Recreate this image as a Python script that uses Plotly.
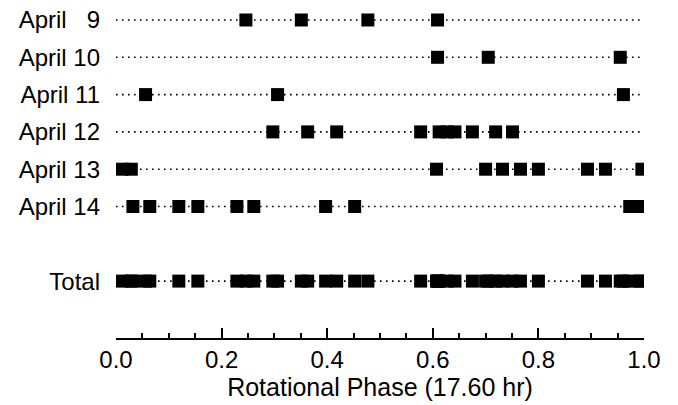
import plotly.graph_objects as go

# ---- data ----
row_labels = ["April\u2007 9", "April 10", "April 11", "April 12", "April 13", "April 14", "Total"]
row_positions = [0, 1, 2, 3, 4, 5, 7]

april9 = [0.246, 0.351, 0.477, 0.609]
april10 = [0.609, 0.705, 0.955]
april11 = [0.056, 0.306, 0.961]
april12 = [0.297, 0.363, 0.418, 0.577, 0.612, 0.627, 0.642, 0.675, 0.719, 0.751]
april13 = [0.012, 0.029, 0.607, 0.700, 0.732, 0.766, 0.800, 0.893, 0.927, 0.996]
april14 = [0.032, 0.064, 0.119, 0.155, 0.229, 0.261, 0.397, 0.452, 0.973, 0.992]

days = [april9, april10, april11, april12, april13, april14]
total = sorted(v for d in days for v in d)
series = days + [total]

phase_range = [0.0, 1.0]
x_tick_vals = [0.0, 0.2, 0.4, 0.6, 0.8, 1.0]
x_tick_text = ["0.0", "0.2", "0.4", "0.6", "0.8", "1.0"]
x_title = "Rotational Phase (17.60 hr)"

FONT = "Liberation Sans, Arial, Helvetica, sans-serif"

fig = go.Figure()

for pos, vals in zip(row_positions, series):
    # dotted guide line across the full phase range
    fig.add_trace(go.Scatter(
        x=phase_range, y=[pos, pos], mode="lines",
        line=dict(color="black", width=1.6, dash="1.6px,4.4px"),
        hoverinfo="skip", showlegend=False,
    ))
    fig.add_trace(go.Scatter(
        x=vals, y=[pos] * len(vals), mode="markers",
        marker=dict(symbol="square", size=13, color="black", line=dict(width=0)),
        showlegend=False,
    ))

fig.update_layout(
    width=678, height=405,
    margin=dict(l=116, r=34, t=0, b=67, pad=0, autoexpand=False),
    paper_bgcolor="white", plot_bgcolor="white",
    font=dict(family=FONT, size=24, color="black"),
)

fig.update_xaxes(
    range=phase_range, automargin=False,
    showgrid=False, zeroline=False,
    showline=True, linecolor="black", linewidth=2, mirror=False,
    tickmode="array", tickvals=x_tick_vals, ticktext=x_tick_text,
    ticks="inside", ticklen=10, tickwidth=2, tickcolor="black",
    minor=dict(dtick=0.05, tick0=0, ticks="inside", ticklen=5, tickwidth=2, tickcolor="black", showgrid=False),
    tickfont=dict(family=FONT, size=24, color="black"),
    ticklabelstandoff=-1,
    title=dict(text=x_title, font=dict(family=FONT, size=25, color="black"), standoff=0),
)

fig.update_yaxes(
    range=[8.525, -0.536], automargin=False,
    showgrid=False, zeroline=False, showline=False,
    tickmode="array", tickvals=row_positions, ticktext=row_labels,
    ticks="", tickfont=dict(family=FONT, size=24, color="black"),
    ticklabelstandoff=15,
)

fig.write_html(
    "out.html",
    config={"displayModeBar": False},
    post_script="document.body.style.margin='0';document.body.style.overflow='hidden';",
)
